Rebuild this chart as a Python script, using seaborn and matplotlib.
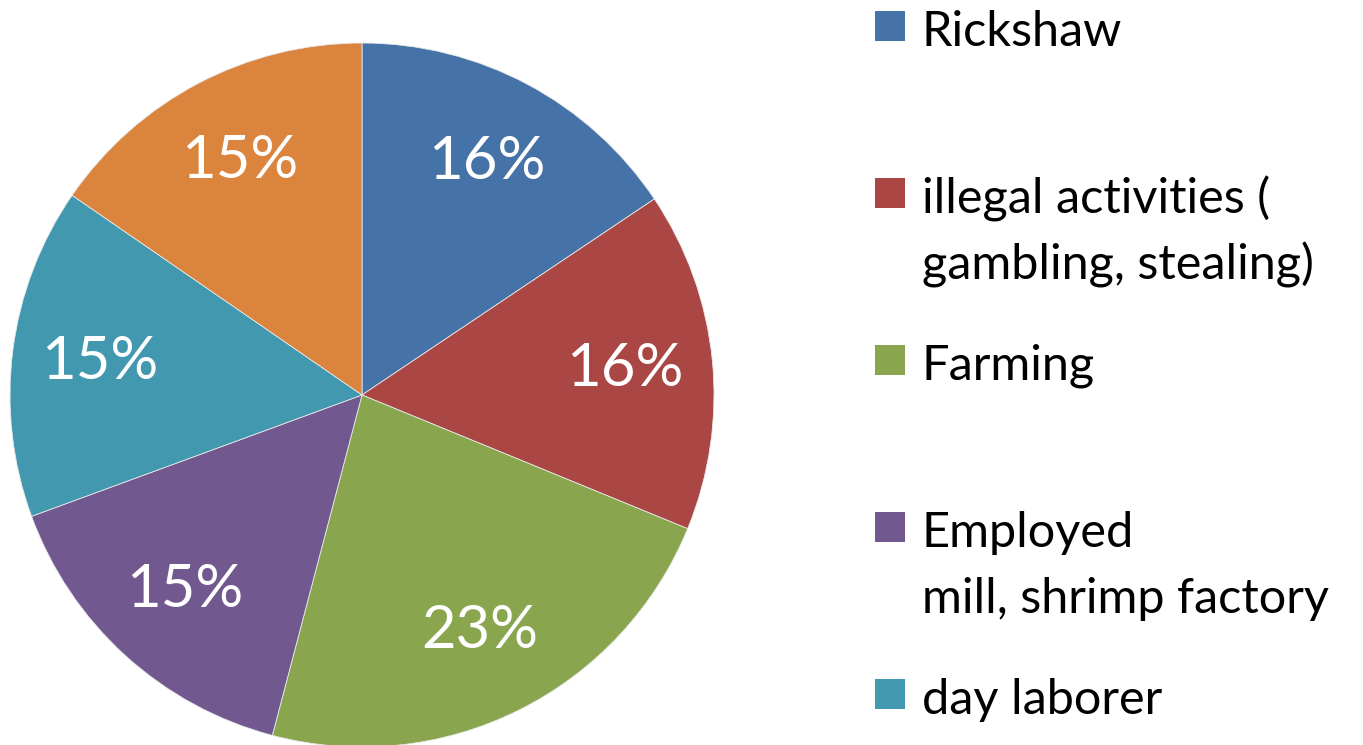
import matplotlib
matplotlib.use("Agg")
import matplotlib.pyplot as plt
from matplotlib.patches import Rectangle
import seaborn as sns

# ---- data ----
categories = [
    "Rickshaw",
    "illegal activities (\ngambling, stealing)",
    "Farming",
    "Employed\nmill, shrimp factory",
    "day laborer",
    "Other",
]
shares = [15.6, 15.6, 22.9, 15.3, 15.2, 15.4]
colors = ["#4572A7", "#AA4643", "#89A54E", "#71588F", "#4198AF", "#DB843D"]
legend_count = 5  # entries visible in the reference

sns.set_theme(style="white")
plt.rcParams["font.family"] = ["Lato", "DejaVu Sans"]

W, H = 1363, 745
fig = plt.figure(figsize=(W / 100, H / 100), dpi=100)
fig.patch.set_facecolor("white")

cx, cy, R = 362, 395, 352
ax = fig.add_axes([(cx - R) / W, (H - cy - R) / H, 2 * R / W, 2 * R / H])
wedges, texts, autotexts = ax.pie(
    shares,
    colors=colors,
    startangle=90,
    counterclock=False,
    autopct="%.0f%%",
    pctdistance=0.75,
    wedgeprops=dict(edgecolor="#e8e8e8", linewidth=0.6),
    textprops=dict(color="white", fontsize=43),
)
ax.set_xlim(-1, 1)
ax.set_ylim(-1, 1)
ax.set_aspect("equal")
ax.axis("off")

# ---- legend (drawn to mimic spreadsheet layout) ----
sq_x, sq_w = 875, 30
text_x = 922
base0, step, line_gap = 46, 167, 66
for i in range(legend_count):
    base = base0 + i * step
    fig.patches.append(
        Rectangle(((sq_x) / W, (H - (base - 5)) / H), sq_w / W, sq_w / H,
                  transform=fig.transFigure, facecolor=colors[i],
                  edgecolor="none")
    )
    for j, line in enumerate(categories[i].split("\n")):
        fig.text(text_x / W, (H - (base + j * line_gap)) / H, line,
                 fontsize=35, color="black", ha="left", va="baseline")

fig.savefig("out.png", dpi=100, facecolor="white")
